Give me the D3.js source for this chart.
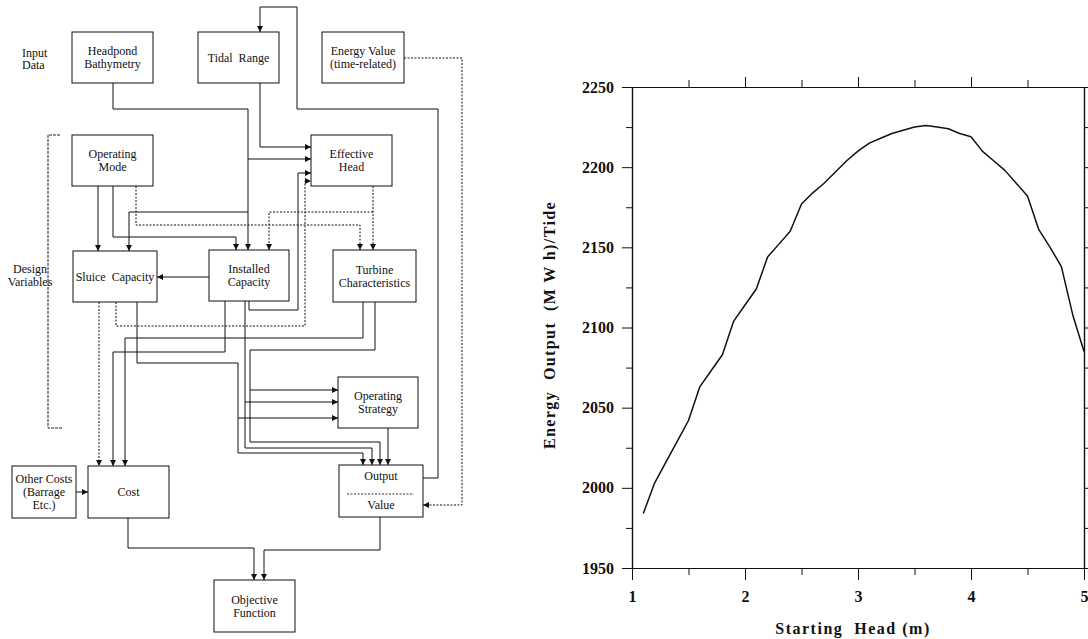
<!DOCTYPE html>
<html>
<head>
<meta charset="utf-8">
<script src="https://cdn.jsdelivr.net/npm/d3@7/dist/d3.min.js"></script>
<style>
  body { margin: 0; background: #fff; }
  svg text { font-family: "Liberation Serif", "Times New Roman", serif; fill: #111; }
</style>
</head>
<body>
<script>
// ---- line chart values ----
var startHead = [1.1, 1.2, 1.3, 1.4, 1.5, 1.6, 1.7, 1.8, 1.9, 2.0,
                 2.1, 2.2, 2.3, 2.4, 2.5, 2.6, 2.7, 2.8, 2.9, 3.0,
                 3.1, 3.2, 3.3, 3.4, 3.5, 3.6, 3.7, 3.8, 3.9, 4.0,
                 4.1, 4.2, 4.3, 4.4, 4.5, 4.6, 4.7, 4.8, 4.9, 5.0];
var energyOut = [1984, 2003, 2016, 2029, 2042, 2063, 2073, 2083, 2104, 2114,
                 2124, 2144, 2152, 2160, 2177, 2184, 2190, 2197, 2204, 2210,
                 2215, 2218, 2221, 2223, 2225, 2226, 2225, 2224, 2221, 2219,
                 2210, 2204, 2198, 2190, 2182, 2161, 2150, 2138, 2108, 2085];
var xMajor = [1, 2, 3, 4, 5];
var xMinor = [1.5, 2.5, 3.5, 4.5];
var yMajor = [1950, 2000, 2050, 2100, 2150, 2200, 2250];
var yMinor = [1975, 2025, 2075, 2125, 2175, 2225];
var xTitle = "Starting  Head (m)";
var yTitle = "Energy  Output  (M W h)/Tide";

// ---- flow chart text ----
var boxText = {
  headpond:  ["Headpond", "Bathymetry"],
  tidal:     ["Tidal  Range"],
  energyVal: ["Energy Value", "(time-related)"],
  opMode:    ["Operating", "Mode"],
  effHead:   ["Effective", "Head"],
  sluice:    ["Sluice  Capacity"],
  installed: ["Installed", "Capacity"],
  turbine:   ["Turbine", "Characteristics"],
  strategy:  ["Operating", "Strategy"],
  other:     ["Other Costs", "(Barrage", "Etc.)"],
  cost:      ["Cost"],
  objective: ["Objective", "Function"]
};
var sideLabels = [["Input", "Data"], ["Design", "Variables"]];

var svg = d3.select("body").append("svg")
    .attr("width", 1088)
    .attr("height", 639);

svg.append("defs").append("marker")
    .attr("id", "arr")
    .attr("viewBox", "0 0 10 10")
    .attr("refX", 10).attr("refY", 5)
    .attr("markerWidth", 6).attr("markerHeight", 6)
    .attr("markerUnits", "userSpaceOnUse")
    .attr("orient", "auto")
  .append("path")
    .attr("d", "M0,0L10,5L0,10z")
    .attr("fill", "#111");

// ================= flow chart =================
var boxPos = {
  headpond:  [72, 32, 81, 51],
  tidal:     [198, 32, 81, 51],
  energyVal: [322, 32, 82, 51],
  opMode:    [72, 135, 81, 51],
  effHead:   [311, 135, 81, 51],
  sluice:    [73, 251, 84, 51],
  installed: [209, 250, 80, 51],
  turbine:   [333, 250, 83, 52],
  strategy:  [338, 377, 80, 51],
  other:     [12, 466, 64, 52],
  cost:      [88, 466, 81, 52],
  output:    [339, 465, 84, 52],
  objective: [214, 580, 81, 52]
};

var fc = svg.append("g").attr("class", "flow");

var line = d3.line();

// links: points, dotted?
var links = [
  // headpond bathymetry
  {p: [[113, 83], [113, 109], [248, 109], [248, 250]], d: false},
  {p: [[248, 159], [311, 159]], d: false},
  {p: [[248, 212], [129, 212], [129, 251]], d: false},
  // tidal range
  {p: [[260, 83], [260, 147], [311, 147]], d: false},
  // loop from output back to tidal range
  {p: [[423, 478], [438, 478], [438, 109], [297, 109], [297, 7], [260, 7], [260, 32]], d: false},
  // energy value
  {p: [[404, 58], [462, 58], [462, 505], [423, 505]], d: true},
  // operating mode
  {p: [[98, 186], [98, 251]], d: false},
  {p: [[113, 186], [113, 237], [236, 237], [236, 250]], d: false},
  {p: [[136, 186], [136, 225], [360, 225], [360, 250]], d: true},
  // effective head
  {p: [[373, 186], [373, 250]], d: true},
  {p: [[373, 212], [269, 212], [269, 250]], d: true},
  // installed capacity
  {p: [[209, 277], [157, 277]], d: false},
  {p: [[249, 301], [249, 310], [298, 310], [298, 173], [311, 173]], d: false},
  {p: [[225, 301], [225, 352], [113, 352], [113, 466]], d: false},
  {p: [[245, 301], [245, 448], [372, 448], [372, 465]], d: false},
  {p: [[245, 402], [338, 402]], d: false},
  // sluice capacity
  {p: [[116, 302], [116, 326], [305, 326], [305, 181], [311, 181]], d: true},
  {p: [[99, 302], [99, 466]], d: true},
  {p: [[137, 302], [137, 363], [238, 363], [238, 453], [363, 453], [363, 465]], d: false},
  {p: [[238, 418], [338, 418]], d: false},
  // turbine characteristics
  {p: [[363, 302], [363, 338], [125, 338], [125, 466]], d: false},
  {p: [[375, 302], [375, 350], [250, 350], [250, 442], [380, 442], [380, 465]], d: false},
  {p: [[250, 390], [338, 390]], d: false},
  // strategy -> output
  {p: [[388, 428], [388, 465]], d: false},
  // other costs -> cost
  {p: [[76, 492], [88, 492]], d: false},
  // cost / output -> objective
  {p: [[128, 518], [128, 548], [254, 548], [254, 580]], d: false},
  {p: [[380, 517], [380, 550], [264, 550], [264, 580]], d: false}
];

fc.selectAll("path.link")
  .data(links)
  .enter().append("path")
    .attr("class", "link")
    .attr("d", function(d) { return line(d.p); })
    .attr("fill", "none")
    .attr("stroke", "#111")
    .attr("stroke-width", 1)
    .attr("stroke-dasharray", function(d) { return d.d ? "2,1.5" : null; })
    .attr("marker-end", "url(#arr)");

// design variables bracket
fc.append("path")
    .attr("d", line([[60, 135], [48, 135], [48, 428], [62, 428]]))
    .attr("fill", "none")
    .attr("stroke", "#222")
    .attr("stroke-width", 1)
    .attr("stroke-dasharray", "3,1");

var boxes = fc.selectAll("g.box")
  .data(Object.keys(boxPos))
  .enter().append("g")
    .attr("class", "box");

boxes.append("rect")
    .attr("x", function(k) { return boxPos[k][0]; })
    .attr("y", function(k) { return boxPos[k][1]; })
    .attr("width", function(k) { return boxPos[k][2]; })
    .attr("height", function(k) { return boxPos[k][3]; })
    .attr("fill", "#fff")
    .attr("stroke", "#111")
    .attr("stroke-width", 1);

boxes.filter(function(k) { return boxText[k]; }).each(function(k) {
  var b = boxPos[k], lines = boxText[k];
  var cx = b[0] + b[2] / 2, cy = b[1] + b[3] / 2;
  var first = cy + 4 - (lines.length - 1) * 13 / 2;
  d3.select(this).selectAll("text")
    .data(lines)
    .enter().append("text")
      .attr("x", cx)
      .attr("y", function(t, i) { return first + i * 13; })
      .attr("text-anchor", "middle")
      .style("font-size", "12px")
      .style("white-space", "pre")
      .text(function(t) { return t; });
});

// output / value box has a divider
var ob = boxPos.output;
fc.append("line")
    .attr("x1", ob[0] + 8).attr("x2", ob[0] + ob[2] - 9)
    .attr("y1", 494).attr("y2", 494)
    .attr("stroke", "#333")
    .attr("stroke-dasharray", "2,1.5");
fc.append("text").attr("x", ob[0] + ob[2] / 2).attr("y", 480)
    .attr("text-anchor", "middle").style("font-size", "12px").text("Output");
fc.append("text").attr("x", ob[0] + ob[2] / 2).attr("y", 509)
    .attr("text-anchor", "middle").style("font-size", "12px").text("Value");

// side labels
fc.append("g").selectAll("text")
  .data(sideLabels[0])
  .enter().append("text")
    .attr("x", 22)
    .attr("y", function(t, i) { return 57 + i * 12; })
    .style("font-size", "12px")
    .text(function(t) { return t; });

fc.append("g").selectAll("text")
  .data(sideLabels[1])
  .enter().append("text")
    .attr("x", 30)
    .attr("y", function(t, i) { return 273 + i * 13; })
    .attr("text-anchor", "middle")
    .style("font-size", "12px")
    .text(function(t) { return t; });

// ================= line chart =================
var x = d3.scaleLinear().domain([1, 5]).range([632, 1084]);
var y = d3.scaleLinear().domain([1950, 2250]).range([568, 87]);

var ch = svg.append("g").attr("class", "chart");

function styleAxis(g) {
  g.selectAll("path.domain").attr("stroke", "#111").attr("stroke-width", 1.2);
  g.selectAll(".tick line").attr("stroke", "#111").attr("stroke-width", 1);
  g.selectAll(".tick text")
    .attr("fill", "#111")
    .style("font-family", "'Liberation Serif', serif")
    .style("font-weight", "bold")
    .style("font-size", "16px");
}

// left
ch.append("g").attr("transform", "translate(632,0)")
  .call(d3.axisLeft(y).tickValues(yMajor).tickSize(10).tickPadding(8).tickSizeOuter(0).tickFormat(d3.format("d")))
  .call(styleAxis);
ch.append("g").attr("transform", "translate(632,0)")
  .call(d3.axisLeft(y).tickValues(yMinor).tickSize(6).tickSizeOuter(0).tickFormat(""))
  .call(styleAxis);
// right
ch.append("g").attr("transform", "translate(1084,0)")
  .call(d3.axisRight(y).tickValues(yMajor).tickSize(6).tickSizeOuter(0).tickFormat(""))
  .call(styleAxis);
ch.append("g").attr("transform", "translate(1084,0)")
  .call(d3.axisRight(y).tickValues(yMinor).tickSize(4).tickSizeOuter(0).tickFormat(""))
  .call(styleAxis);
// bottom
ch.append("g").attr("transform", "translate(0,568)")
  .call(d3.axisBottom(x).tickValues(xMajor).tickSize(12).tickPadding(11).tickSizeOuter(0).tickFormat(d3.format("d")))
  .call(styleAxis);
ch.append("g").attr("transform", "translate(0,568)")
  .call(d3.axisBottom(x).tickValues(xMinor).tickSize(7).tickSizeOuter(0).tickFormat(""))
  .call(styleAxis);
// top
ch.append("g").attr("transform", "translate(0,87)")
  .call(d3.axisTop(x).tickValues(xMajor.slice(1, 4)).tickSize(10).tickSizeOuter(0).tickFormat(""))
  .call(styleAxis);
ch.append("g").attr("transform", "translate(0,87)")
  .call(d3.axisTop(x).tickValues(xMinor).tickSize(7).tickSizeOuter(0).tickFormat(""))
  .call(styleAxis);

var pts = startHead.map(function(h, i) { return [h, energyOut[i]]; });

ch.append("path")
    .datum(pts)
    .attr("fill", "none")
    .attr("stroke", "#111")
    .attr("stroke-width", 1.5)
    .attr("stroke-linejoin", "round")
    .attr("d", d3.line()
      .x(function(d) { return x(d[0]); })
      .y(function(d) { return y(d[1]); }));

ch.append("text")
    .attr("x", 853).attr("y", 634)
    .attr("text-anchor", "middle")
    .style("font-weight", "bold")
    .style("font-size", "16px")
    .style("letter-spacing", "1.5px")
    .style("white-space", "pre")
    .text(xTitle);

ch.append("text")
    .attr("transform", "translate(555,325) rotate(-90)")
    .attr("text-anchor", "middle")
    .style("font-weight", "bold")
    .style("font-size", "16px")
    .style("letter-spacing", "1.4px")
    .style("white-space", "pre")
    .text(yTitle);
</script>
</body>
</html>
